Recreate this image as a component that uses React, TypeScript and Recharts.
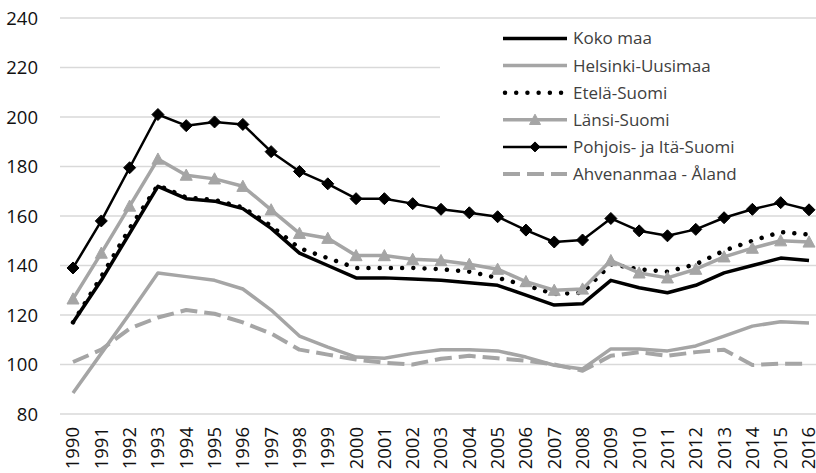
import React from 'react';
import { LineChart, Line, XAxis, YAxis, CartesianGrid, Legend } from 'recharts';

const years = [
  '1990', '1991', '1992', '1993', '1994', '1995', '1996', '1997', '1998', '1999',
  '2000', '2001', '2002', '2003', '2004', '2005', '2006', '2007', '2008', '2009',
  '2010', '2011', '2012', '2013', '2014', '2015', '2016',
];

const kokoMaa = [117, 134, 153, 172, 167, 166, 163, 155, 145, 140, 135, 135, 134.5, 134, 133, 132, 128, 124, 124.5, 134, 131, 129, 132, 137, 140, 143, 142];
const helsinkiUusimaa = [88.5, 104.5, 120.5, 137, 135.5, 134, 130.5, 122, 111.5, 107, 103, 102.5, 104.5, 106, 106, 105.5, 103, 99.7, 98.2, 106.3, 106.3, 105.5, 107.5, 111.5, 115.5, 117.3, 116.8];
const etelaSuomi = [117, 135.5, 155, 172.5, 167.5, 166.5, 163.5, 156, 147, 143, 139, 139, 139, 138.5, 137.5, 135, 132, 128.5, 129, 140.5, 138.5, 137.5, 140.5, 146, 150, 153.5, 152.5];
const lansiSuomi = [126.5, 145, 164, 183, 176.5, 175, 172, 162.5, 153, 151, 144, 144, 142.5, 142, 140.5, 138.5, 133.5, 130, 130.5, 142, 137, 135, 138.5, 143.5, 147, 150, 149.5];
const pohjoisItaSuomi = [139, 158, 179.5, 201, 196.5, 198, 197, 186, 178, 173, 167, 167, 165, 162.7, 161.3, 159.7, 154.3, 149.5, 150.3, 159, 154, 152, 154.6, 159.3, 162.7, 165.4, 162.5];
const ahvenanmaa = [101, 106, 114.5, 119, 122, 120.5, 117, 112.5, 106, 104, 102, 100.7, 100, 102.3, 103.5, 102.5, 101.5, 100, 97.5, 103.5, 105, 103.5, 105, 106, 99.8, 100.3, 100.3];

const yTicks = [80, 100, 120, 140, 160, 180, 200, 220, 240];

const data = years.map((year, i) => ({
  year,
  koko: kokoMaa[i],
  helsinki: helsinkiUusimaa[i],
  etela: etelaSuomi[i],
  lansi: lansiSuomi[i],
  pohjois: pohjoisItaSuomi[i],
  ahvenanmaa: ahvenanmaa[i],
}));

const BLACK = '#000000';
const GRAY = '#A5A5A5';
const FONT = '"Open Sans", "Noto Sans", sans-serif';

type Series = {
  key: string;
  name: string;
  color: string;
  width: number;
  dash?: string;
  cap?: 'round' | 'butt';
  marker?: 'triangle' | 'diamond';
};

const series: Series[] = [
  { key: 'koko', name: 'Koko maa', color: BLACK, width: 3.5 },
  { key: 'helsinki', name: 'Helsinki-Uusimaa', color: GRAY, width: 3.5 },
  { key: 'etela', name: 'Etelä-Suomi', color: BLACK, width: 4.5, dash: '0.01 11.2', cap: 'round' },
  { key: 'lansi', name: 'Länsi-Suomi', color: GRAY, width: 3.5, marker: 'triangle' },
  { key: 'pohjois', name: 'Pohjois- ja Itä-Suomi', color: BLACK, width: 2.5, marker: 'diamond' },
  { key: 'ahvenanmaa', name: 'Ahvenanmaa - Åland', color: GRAY, width: 4, dash: '17 7' },
];

const markerPath = (type: string, cx: number, cy: number, s: number) => {
  if (type === 'triangle') {
    const h = s * 0.85;
    return `M${cx},${cy - h / 2 - 1} L${cx + s / 2},${cy + h / 2} L${cx - s / 2},${cy + h / 2} Z`;
  }
  const r = s / 2;
  return `M${cx},${cy - r} L${cx + r},${cy} L${cx},${cy + r} L${cx - r},${cy} Z`;
};

const makeDot = (type: string, color: string, size: number) => (props: any) => {
  const { cx, cy, index } = props;
  if (cx == null || cy == null) return <g key={`d-${index}`} />;
  return <path key={`d-${index}`} d={markerPath(type, cx, cy, size)} fill={color} stroke={color} strokeWidth={1} />;
};

const XTick = (props: any) => {
  const { x, payload } = props;
  return (
    <g transform={`translate(${x},427) rotate(-90)`}>
      <text x={0} y={0} dy="0.35em" textAnchor="end" fontSize={18.5} fontFamily={FONT} fill="#111">
        {payload.value}
      </text>
    </g>
  );
};

const LegendBox = () => {
  const x1 = 63;
  const x2 = 127;
  const y0 = 16.5;
  const step = 27.1;
  return (
    <svg width={382} height={174} style={{ display: 'block', background: '#fff' }}>
      {series.map((s, i) => {
        const y = y0 + i * step;
        return (
          <g key={s.key}>
            <line
              x1={s.cap === 'round' ? x1 + 2 : x1}
              x2={x2}
              y1={y}
              y2={y}
              stroke={s.color}
              strokeWidth={s.width}
              strokeDasharray={s.dash}
              strokeLinecap={s.cap || 'butt'}
            />
            {s.marker && (
              <path
                d={markerPath(s.marker, (x1 + x2) / 2, y, s.marker === 'diamond' ? 10 : 11)}
                fill={s.color}
                stroke={s.color}
                strokeWidth={1}
              />
            )}
            <text x={133} y={y} dy="0.35em" fontSize={17} fontFamily={FONT} fill="#404040">
              {s.name}
            </text>
          </g>
        );
      })}
    </svg>
  );
};

export default function App() {
  return (
    <div style={{ position: 'absolute', left: 0, top: 0, width: 816, height: 473, overflow: 'hidden', background: '#fff' }}>
      <LineChart width={822} height={473} data={data} margin={{ top: 18, right: 0, bottom: 0, left: 0 }}>
        <CartesianGrid vertical={false} stroke="#D9D9D9" strokeWidth={1.5} />
        <XAxis
          dataKey="year"
          interval={0}
          padding={{ left: 13, right: 13 }}
          axisLine={false}
          tickLine={false}
          height={59}
          tick={<XTick />}
        />
        <YAxis
          domain={[80, 240]}
          ticks={yTicks}
          interval={0}
          width={60}
          axisLine={false}
          tickLine={false}
          tickSize={0}
          tickMargin={22}
          tick={{ fontSize: 18.5, fontFamily: FONT, fill: '#111' }}
        />
        <Legend
          layout="vertical"
          align="center"
          verticalAlign="middle"
          content={<LegendBox />}
          wrapperStyle={{ position: 'absolute', left: 440, top: 22, width: 382, height: 174, background: '#fff' }}
        />
        {series.map((s) => (
          <Line
            key={s.key}
            type="linear"
            dataKey={s.key}
            name={s.name}
            stroke={s.color}
            strokeWidth={s.width}
            strokeDasharray={s.dash}
            strokeLinecap={s.cap || 'butt'}
            strokeLinejoin="round"
            dot={s.marker ? makeDot(s.marker, s.color, 12) : false}
            activeDot={false}
            isAnimationActive={false}
          />
        ))}
      </LineChart>
    </div>
  );
}
